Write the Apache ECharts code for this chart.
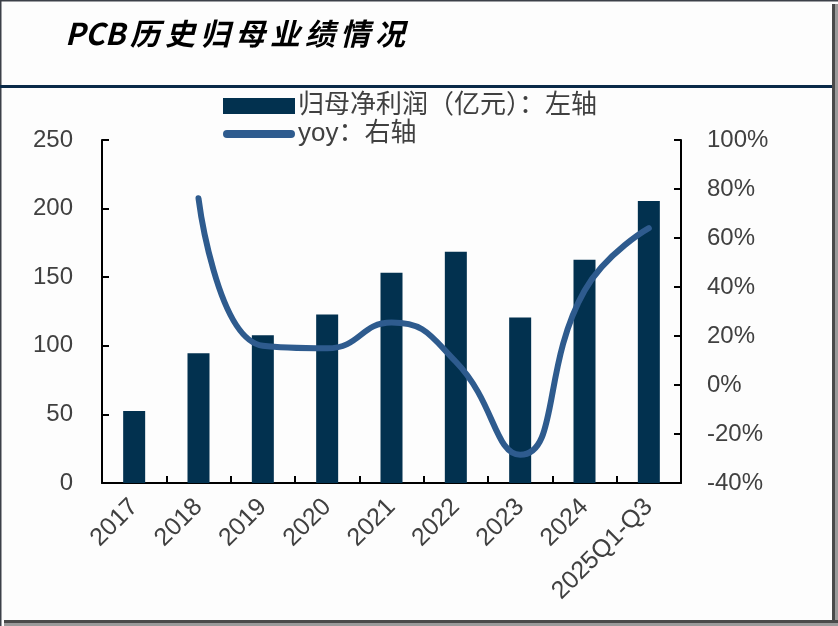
<!DOCTYPE html>
<html>
<head>
<meta charset="utf-8">
<script src="https://cdn.jsdelivr.net/npm/echarts@6/dist/echarts.min.js"></script>
<style>
html,body{margin:0;padding:0;background:#fdfdfd;}
#c{width:838px;height:626px;}
</style>
</head>
<body>
<div id="c"></div>
<script>
var categories = ['2017','2018','2019','2020','2021','2022','2023','2024','2025Q1-Q3'];
var profit = [52.5, 94.5, 107.6, 122.8, 153.3, 168.6, 120.6, 162.8, 205.5];
var yoy = [null, 76.2, 16, 15, 25.5, 9.5, -28.5, 38.5, 64];
var leftTicks = [0, 250, 50];
var rightTicks = [-40, 100, 20];
var seriesNames = ['归母净利润（亿元）：左轴', 'yoy：右轴'];
var titleText = ['PCB', '历', '史', '归', '母', '业', '绩', '情', '况'];

var barColor = '#02314f';
var lineColor = '#2e5b8e';
var textColor = '#404040';
var font = '"Liberation Sans", Arial, "Noto Sans CJK SC", sans-serif';

var chart = echarts.init(document.getElementById('c'), null, {renderer: 'canvas'});

var graphics = [
  {type: 'rect', left: 0, top: 0, shape: {width: 838, height: 626}, style: {fill: '#fdfdfd'}, z: -10},
  {type: 'rect', shape: {x: 0, y: 0, width: 838, height: 1.5}, style: {fill: '#3c4048'}},
  {type: 'rect', shape: {x: 0, y: 0, width: 1.5, height: 626}, style: {fill: '#3c4048'}},
  {type: 'rect', shape: {x: 832, y: 4, width: 3, height: 622}, style: {fill: '#4a4a4a'}},
  {type: 'rect', shape: {x: 835, y: 4, width: 3, height: 622}, style: {fill: '#9a9a9a'}},
  {type: 'rect', shape: {x: 4, y: 620, width: 834, height: 3}, style: {fill: '#4a4a4a'}},
  {type: 'rect', shape: {x: 4, y: 623, width: 834, height: 3}, style: {fill: '#9a9a9a'}},
  {type: 'rect', shape: {x: 0, y: 85, width: 832, height: 3}, style: {fill: '#0a2a48'}}
];
var tx = 65;
titleText.forEach(function (t, i) {
  graphics.push({
    type: 'text',
    x: tx, y: 19,
    style: {
      text: t,
      fill: '#000',
      font: 'italic bold 30px "Noto Sans CJK SC", sans-serif',
      textVerticalAlign: 'top'
    }
  });
  tx += (i === 0 ? 65 : 35);
});

var option = {
  backgroundColor: 'transparent',
  animation: false,
  graphic: graphics,
  legend: {
    orient: 'vertical',
    left: 218,
    top: 88,
    itemWidth: 72,
    itemHeight: 16,
    itemGap: 2,
    textStyle: {fontSize: 26, color: textColor, fontFamily: font, padding: [0, 0, 0, -2]},
    data: [
      {name: seriesNames[0], icon: 'rect'},
      {name: seriesNames[1], icon: 'path://M4,0 H68 A4,4 0 0 1 68,8 H4 A4,4 0 0 1 4,0 Z'}
    ]
  },
  grid: {left: 102, right: 157, top: 140, bottom: 143, containLabel: false},
  xAxis: {
    type: 'category',
    data: categories,
    axisLine: {lineStyle: {color: '#000', width: 2}},
    axisTick: {show: true, inside: true, length: 7, lineStyle: {color: '#000', width: 2}},
    axisLabel: {rotate: 45, fontSize: 25, color: textColor, fontFamily: font, margin: 20}
  },
  yAxis: [
    {
      type: 'value',
      min: leftTicks[0], max: leftTicks[1], interval: leftTicks[2],
      axisLine: {show: true, lineStyle: {color: '#000', width: 2}},
      axisTick: {show: true, inside: true, length: 7, lineStyle: {color: '#000', width: 2}},
      splitLine: {show: false},
      axisLabel: {fontSize: 24, color: textColor, fontFamily: font, margin: 29}
    },
    {
      type: 'value',
      min: rightTicks[0], max: rightTicks[1], interval: rightTicks[2],
      position: 'right',
      axisLine: {show: true, lineStyle: {color: '#000', width: 2}},
      axisTick: {show: true, inside: true, length: 7, lineStyle: {color: '#000', width: 2}},
      splitLine: {show: false},
      axisLabel: {fontSize: 24, color: textColor, fontFamily: font, margin: 26, formatter: '{value}%'}
    }
  ],
  series: [
    {
      name: seriesNames[0],
      type: 'bar',
      data: profit,
      barWidth: 22,
      itemStyle: {color: barColor},
      yAxisIndex: 0
    },
    {
      name: seriesNames[1],
      type: 'line',
      data: yoy,
      yAxisIndex: 1,
      smooth: 0.5,
      showSymbol: false,
      symbol: 'none',
      lineStyle: {color: lineColor, width: 6, cap: 'round', join: 'round'},
      itemStyle: {color: lineColor}
    }
  ]
};
chart.setOption(option);
</script>
</body>
</html>
